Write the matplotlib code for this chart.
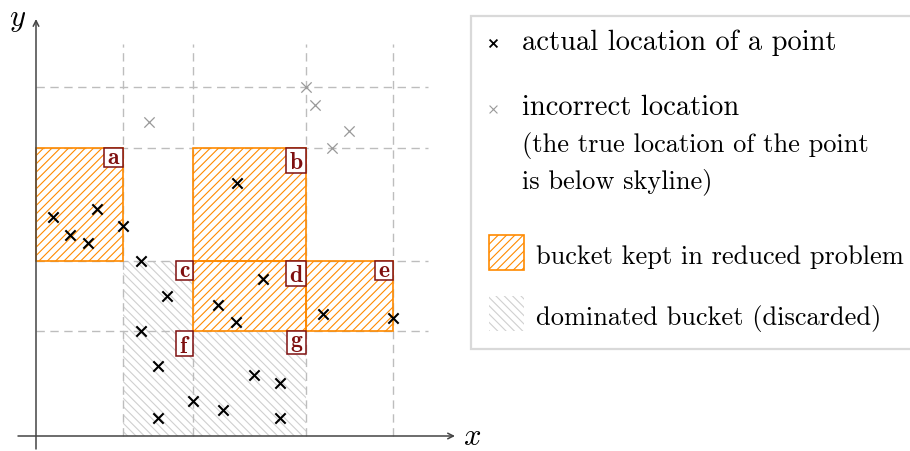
"""
Skyline reduction sketch: grid of buckets, kept vs dominated, with points.
"""
import matplotlib
matplotlib.use("Agg")
import matplotlib.pyplot as plt
from matplotlib.patches import Rectangle
from matplotlib.textpath import TextPath
from matplotlib.font_manager import FontProperties

plt.rcParams["hatch.linewidth"] = 0.8

# grid boundaries (drawing units = pixels, origin at axis crossing)
GRID_X = [87, 157, 270, 357]
GRID_Y = [105, 175, 288, 349]
GRID_TOP = 392

# buckets as (name, x0, x1, y0, y1)
KEPT = [
    ("a", 0, 87, 175, 288),
    ("b", 157, 270, 175, 288),
    ("d", 157, 270, 105, 175),
    ("e", 270, 357, 105, 175),
]
DOMINATED = [
    ("c", 87, 157, 105, 175),
    ("f", 87, 157, 0, 105),
    ("g", 157, 270, 0, 105),
]

# actual point locations
PTS_X = [17, 34, 52, 61, 87, 201, 105, 131, 105, 122, 122, 157, 187,
         218, 244, 244, 182, 200, 227, 287, 357]
PTS_Y = [219, 201, 193, 227, 210, 253, 175, 140, 105, 70, 18, 35, 26,
         61, 53, 18, 131, 114, 157, 122, 118]

# incorrect (above-skyline) locations
BAD_X = [270, 279, 113, 313, 296]
BAD_Y = [349, 331, 314, 305, 288]

ORANGE = "#ff8a00"
HATCH_GRAY = "#d0d0d0"
GRID_GRAY = "#bdbdbd"
LABEL_RED = "#7f1010"
SERIF = "cmr10"
LABEL_PT = 17
SEP = 4          # inner padding of tag boxes, px
PX_PER_PT = 100 / 72


def draw_bucket(ax, x0, x1, y0, y1, kept):
    if kept:
        ax.add_patch(Rectangle((x0, y0), x1 - x0, y1 - y0, facecolor="none",
                               edgecolor=ORANGE, hatch="////", lw=1.2, zorder=3))
    else:
        ax.add_patch(Rectangle((x0, y0), x1 - x0, y1 - y0, facecolor="none",
                               edgecolor=HATCH_GRAY, hatch="\\\\\\\\", lw=0, zorder=1))


def draw_tag(ax, name, x, y):
    """Tight box (like a TikZ node) anchored at its north-east corner (x, y)."""
    ext = TextPath((0, 0), name, size=LABEL_PT,
                   prop=FontProperties(family="cmb10")).get_extents()
    w = ext.width * PX_PER_PT + 2 * SEP
    h = ext.height * PX_PER_PT + 2 * SEP
    ax.add_patch(Rectangle((x - w, y - h), w, h, facecolor="white",
                           edgecolor=LABEL_RED, lw=1.1, zorder=6))
    ax.text(x - SEP - ext.x1 * PX_PER_PT, y - SEP - ext.y1 * PX_PER_PT, name,
            ha="left", va="baseline", fontsize=LABEL_PT, family="cmb10",
            color=LABEL_RED, zorder=7)


def main():
    fig = plt.figure(figsize=(9.1, 4.52), dpi=100)
    ax = fig.add_axes([0, 0, 1, 1])
    ax.set_xlim(-36, 874)
    ax.set_ylim(-15, 437)
    ax.axis("off")

    # dashed grid
    for gx in GRID_X:
        ax.plot([gx, gx], [0, GRID_TOP], color=GRID_GRAY, lw=1, ls=(0, (6, 4)), zorder=2)
    for gy in GRID_Y:
        ax.plot([0, GRID_TOP], [gy, gy], color=GRID_GRAY, lw=1, ls=(0, (6, 4)), zorder=2)

    for name, x0, x1, y0, y1 in DOMINATED:
        draw_bucket(ax, x0, x1, y0, y1, kept=False)
    for name, x0, x1, y0, y1 in KEPT:
        draw_bucket(ax, x0, x1, y0, y1, kept=True)

    ax.scatter(PTS_X, PTS_Y, marker="x", s=55, color="black", lw=1.5, zorder=5)
    ax.scatter(BAD_X, BAD_Y, marker="x", s=55, color="#999999", lw=0.9, zorder=5)

    for name, x0, x1, y0, y1 in KEPT + DOMINATED:
        draw_tag(ax, name, x1, y1)

    # axes with arrow tips
    arrow = dict(arrowstyle="->", color="#444444", lw=1.1, shrinkA=0, shrinkB=0)
    ax.annotate("", xy=(419, 0), xytext=(-18, 0), arrowprops=arrow, zorder=4)
    ax.annotate("", xy=(0, 417), xytext=(0, -13), arrowprops=arrow, zorder=4)
    ax.text(437, 0, "x", fontsize=22, family="cmmi10", ha="center", va="center")
    ax.text(-19, 419, "y", fontsize=22, family="cmmi10", ha="center", va="center")

    # legend, drawn by hand
    ax.add_patch(Rectangle((435, 87), 445, 333, facecolor="white",
                           edgecolor="#d9d9d9", lw=1.6, zorder=1))
    ax.scatter([457], [393], marker="x", s=32, color="black", lw=1.3, zorder=5)
    ax.text(486, 394, "actual location of a point", fontsize=20.5, family=SERIF,
            va="center")
    ax.scatter([457], [327], marker="x", s=32, color="#999999", lw=0.8, zorder=5)
    ax.text(486, 329, "incorrect location", fontsize=20.5, family=SERIF, va="center")
    ax.text(486, 291, "(the true location of the point", fontsize=19, family=SERIF,
            va="center")
    ax.text(486, 255, "is below skyline)", fontsize=19, family=SERIF, va="center")
    ax.add_patch(Rectangle((453, 166), 35, 35, facecolor="none", edgecolor=ORANGE,
                           hatch="////", lw=1.2, zorder=3))
    ax.text(500, 180, "bucket kept in reduced problem", fontsize=19, family=SERIF,
            va="center")
    ax.add_patch(Rectangle((453, 105), 35, 35, facecolor="none", edgecolor=HATCH_GRAY,
                           hatch="\\\\\\\\", lw=0, zorder=3))
    ax.text(500, 118, "dominated bucket (discarded)", fontsize=19, family=SERIF,
            va="center")

    fig.savefig("out.png", dpi=100)
    plt.close(fig)


if __name__ == "__main__":
    main()
